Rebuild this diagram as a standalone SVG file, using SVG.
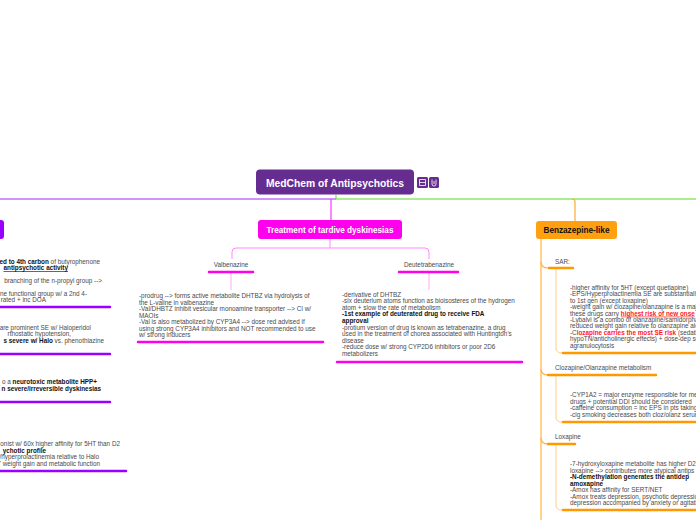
<svg xmlns="http://www.w3.org/2000/svg" width="696" height="520" viewBox="0 0 696 520">
<style>
text{font-family:"Liberation Sans",Arial,sans-serif}
.t{font-size:6.35px;fill:#4a4a4a}
.b{font-weight:bold;fill:#111}
.u{text-decoration:underline}
.red{font-weight:bold;fill:#ff1a1a}
.pb{stroke:#9900ff;stroke-width:2.5;stroke-linecap:round;fill:none}
.mb{stroke:#ff00ee;stroke-width:2.5;stroke-linecap:round;fill:none}
.ob{stroke:#ff9900;stroke-width:2.5;stroke-linecap:round;fill:none}
.hd{font-weight:bold;font-size:8.2px}
</style>
<rect width="696" height="520" fill="#ffffff"/>
<g id="connectors" fill="none">
<path d="M0,199 H336" stroke="#9a2cf0" stroke-width="1"/>
<path d="M336,195 V199 H696" stroke="#55dd22" stroke-width="1"/>
<path d="M331,199 V220" stroke="#ff33ff" stroke-width="1.2"/>
<path d="M572,199 Q575,199 575,202 V221" stroke="#ffaa33" stroke-width="1.2"/>
<path d="M330,239 V248 M232,259 V252 Q232,248 236,248 H425 Q429,248 429,252 V259" stroke="#ff88ff" stroke-width="1"/>
<path d="M231,273 V290 M429,273 V290" stroke="#ffaaff" stroke-width="1"/>
<path d="M541,239 V520" stroke="#ffb444" stroke-width="1.2"/>
<path d="M541,262 Q541,268 548,268 M541,369 Q541,375 548,375 M541,438 Q541,444 548,444" stroke="#ffb444" stroke-width="1.2"/>
<path d="M556,269 V348 Q556,353 562,353 M556,376 V417 Q556,422 562,422 M556,445 V505 Q556,510 562,510" stroke="#ffcc88" stroke-width="1"/>
</g>
<g id="root">
<rect x="256" y="169.5" width="158" height="25" rx="4" fill="#662d91"/>
<text x="335" y="186.5" text-anchor="middle" font-size="10.3" font-weight="bold" fill="#ffffff">MedChem of Antipsychotics</text>
<rect x="417" y="177" width="11" height="11" rx="1.5" fill="#662d91"/>
<path d="M419.5,179.5 H425.5 M419.5,182.5 H425.5 M419.5,185.5 H425.5 M419.5,179.5 V185.5 M425.5,179.5 V185.5" stroke="#ffffff" stroke-width="0.8" fill="none"/>
<rect x="429" y="177" width="10" height="11" rx="1.5" fill="#662d91"/>
<path d="M432,179.5 V184 Q432,186 434,186 Q436,186 436,184 V179.5 M434,181 V184" stroke="#ffffff" stroke-width="0.8" fill="none"/>
</g>
<g id="left-branch">
<rect x="-10" y="220" width="14" height="19" rx="3" fill="#9900ff"/>
<text class="t" text-anchor="end" x="100" y="263.5"><tspan class="b">ed to 4th carbon</tspan> of butyrophenone</text>
<text class="t b u" text-anchor="end" x="68" y="270">antipsychotic activity</text>
<text class="t" text-anchor="end" x="102" y="283">branching of the n-propyl group --&gt;</text>
<text class="t" text-anchor="end" x="87" y="295.5">ne functional group w/ a 2nd 4-</text>
<text class="t" text-anchor="end" x="46" y="302">rated + inc DOA</text>
<path class="pb" d="M-2,307 H110"/>
<text class="t" text-anchor="end" x="91" y="329.5">are prominent SE w/ Haloperidol</text>
<text class="t" text-anchor="end" x="71" y="336">rthostatic hypotension,</text>
<text class="t" text-anchor="end" x="104" y="342.5"><tspan class="b">s severe w/ Halo</tspan> vs. phenothiazine</text>
<path class="pb" d="M-2,354 H110"/>
<text class="t" text-anchor="end" x="97" y="384">o a <tspan class="b">neurotoxic metabolite HPP+</tspan></text>
<text class="t b" text-anchor="end" x="101" y="390.5">n severe/irreversible dyskinesias</text>
<path class="pb" d="M-2,402 H110"/>
<text class="t" text-anchor="end" x="120" y="446">onist w/ 60x higher affinity for 5HT than D2</text>
<text class="t b" text-anchor="end" x="46" y="452.5">ychotic profile</text>
<text class="t" text-anchor="end" x="99" y="459">S/hyperprolactinemia relative to Halo</text>
<text class="t" text-anchor="end" x="100" y="465.5">' weight gain and metabolic function</text>
<path class="pb" d="M-2,471 H126"/>
</g>
<g id="treatment">
<rect x="258" y="220" width="144" height="19" rx="3" fill="#ff00ee"/>
<text x="330" y="232.5" text-anchor="middle" class="hd" fill="#ffffff">Treatment of tardive dyskinesias</text>
</g>
<g id="valbenazine">
<text class="t" x="231" y="267" text-anchor="middle">Valbenazine</text>
<path class="mb" d="M209,272 H253"/>
<text class="t" x="139" y="298">-prodrug --&gt; forms active metabolite DHTBZ via hydrolysis of</text>
<text class="t" x="139" y="304.5">the L-valine in valbenazine</text>
<text class="t" x="139" y="311">-Val/DHBTZ inhibit vesicular monoamine transporter --&gt; CI w/</text>
<text class="t" x="139" y="317.5">MAOIs</text>
<text class="t" x="139" y="324">-Val is also metabolized by CYP3A4 --&gt; dose red advised if</text>
<text class="t" x="139" y="330.5">using strong CYP3A4 inhibitors and NOT recommended to use</text>
<text class="t" x="139" y="337">w/ strong inducers</text>
<path class="mb" d="M138,342 H323"/>
</g>
<g id="deutetrabenazine">
<text class="t" x="429" y="267" text-anchor="middle">Deutetrabenazine</text>
<path class="mb" d="M399,272 H458"/>
<text class="t" x="342" y="296.5">-derivative of DHTBZ</text>
<text class="t" x="342" y="303.1">-six deuterium atoms function as bioisosteres of the hydrogen</text>
<text class="t" x="342" y="309.7">atom + slow the rate of metabolism</text>
<text class="t b" x="342" y="316.3">-1st example of deuterated drug to receive FDA</text>
<text class="t b" x="342" y="322.9">approval</text>
<text class="t" x="342" y="329.5">-protium version of drug is known as tetrabenazine, a drug</text>
<text class="t" x="342" y="336.1">used in the treatment of chorea associated with Huntington's</text>
<text class="t" x="342" y="342.7">disease</text>
<text class="t" x="342" y="349.3">-reduce dose w/ strong CYP2D6 inhibitors or poor 2D6</text>
<text class="t" x="342" y="355.9">metabolizers</text>
<path class="mb" d="M337,362 H522"/>
</g>
<g id="benzazepine">
<rect x="536" y="221" width="81" height="18" rx="3" fill="#ffa010"/>
<text x="576.5" y="233" text-anchor="middle" class="hd" fill="#111111">Benzazepine-like</text>
</g>
<g id="sar">
<text class="t" x="555" y="264">SAR:</text>
<path class="ob" d="M549,268 H573"/>
<text class="t" x="570" y="290">-higher affinity for 5HT (except quetiapine)</text>
<text class="t" x="570" y="296.4">-EPS/Hyperprolactinemia SE are substantially</text>
<text class="t" x="570" y="302.8">to 1st gen (except loxapine)</text>
<text class="t" x="570" y="309.2">-weight gain w/ clozapine/olanzapine is a maj</text>
<text class="t" x="570" y="315.6">these drugs carry <tspan class="red u">highest risk of new onse</tspan></text>
<text class="t" x="570" y="322">-Lybalvi is a combo of olanzapine/samidorpha</text>
<text class="t" x="570" y="328.4">reduced weight gain relative to olanzapine alo</text>
<text class="t" x="570" y="334.8">-C<tspan class="red">lozapine carries the most SE risk</tspan> (sedati</text>
<text class="t" x="570" y="341.2">hypoTN/anticholinergic effects) + dose-dep se</text>
<text class="t" x="570" y="347.6">agranulocytosis</text>
<path class="ob" d="M563,353 H700"/>
</g>
<g id="cloz-metabolism">
<text class="t" x="555" y="370">Clozapine/Olanzapine metabolism</text>
<path class="ob" d="M548,375 H656"/>
<text class="t" x="570" y="397">-CYP1A2 = major enzyme responsible for met</text>
<text class="t" x="570" y="403.5">drugs + potential DDI should be considered</text>
<text class="t" x="570" y="410">-caffeine consumption = inc EPS in pts taking</text>
<text class="t" x="570" y="416.5">-cig smoking decreases both cloz/olanz serum</text>
<path class="ob" d="M563,422 H700"/>
</g>
<g id="loxapine">
<text class="t" x="555" y="439">Loxapine</text>
<path class="ob" d="M548,444 H575"/>
<text class="t" x="570" y="466">-7-hydroxyloxapine metabolite has higher D2</text>
<text class="t" x="570" y="472.5">loxapine --&gt; contributes more atypical antips</text>
<text class="t b" x="570" y="479">-N-demethylation generates the antidep</text>
<text class="t b" x="570" y="485.5">amoxapine</text>
<text class="t" x="570" y="492">-Amox has affinity for SERT/NET</text>
<text class="t" x="570" y="498.5">-Amox treats depression, psychotic depressio</text>
<text class="t" x="570" y="505">depression accompanied by anxiety or agitatio</text>
<path class="ob" d="M563,510 H700"/>
</g>
</svg>
